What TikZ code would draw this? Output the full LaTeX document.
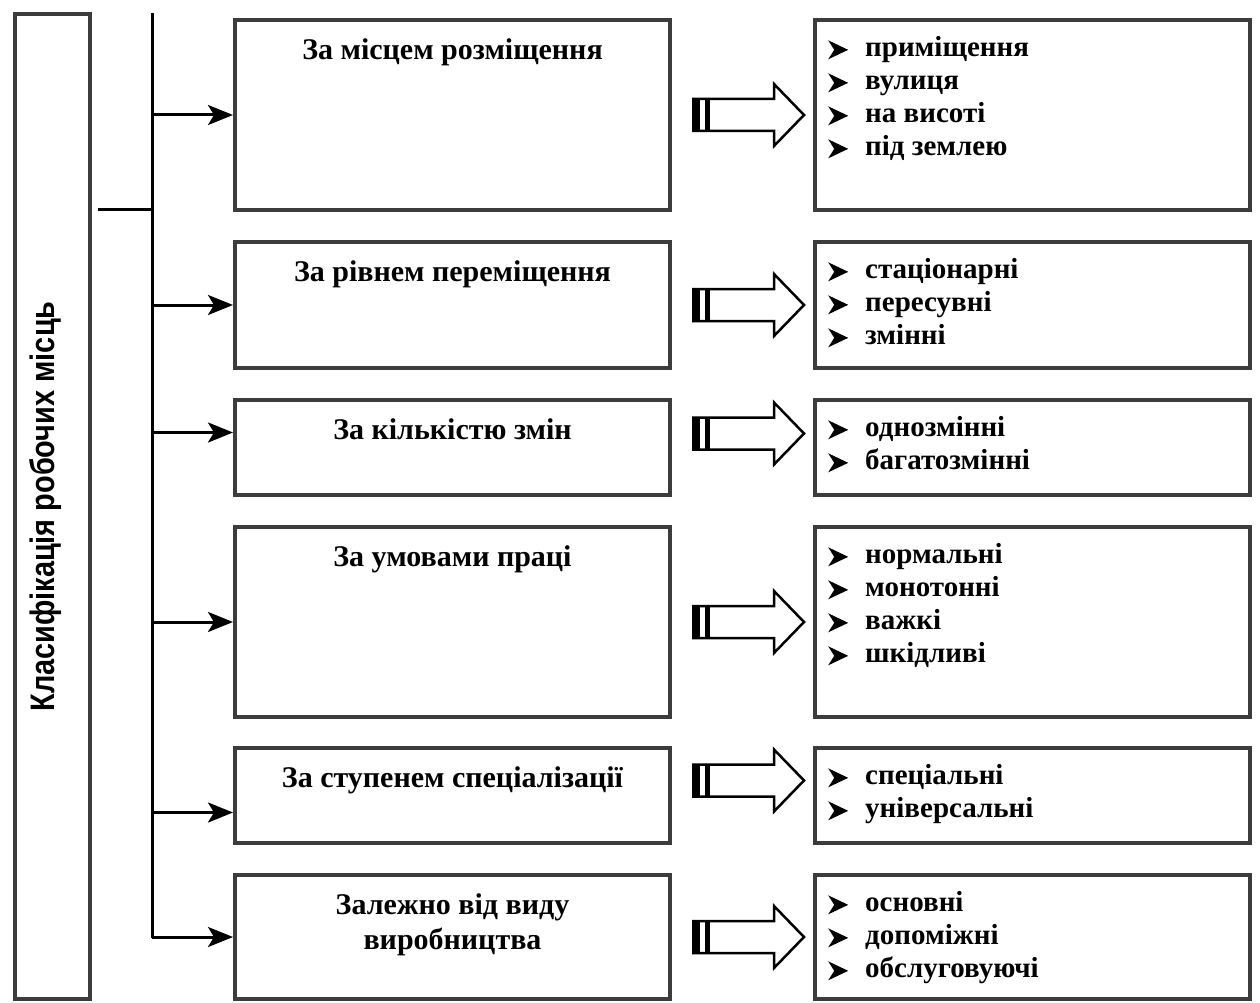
\documentclass[tikz,border=0pt]{standalone}
\usepackage{fontspec}
\setmainfont{Liberation Serif}
\newfontfamily\sidefont[FakeStretch=0.85]{Liberation Sans Bold}
\usetikzlibrary{positioning,arrows.meta}
\definecolor{boxgray}{HTML}{3C3C3C}
% list bullet (arrowhead)
\newcommand{\blt}{\tikz[x=1pt,y=1pt,baseline=3pt]\fill (0,0) -- (20,9.5) -- (0,19) -- (6,9.5) -- cycle;\hspace{17pt}}
\tikzset{
  box/.style={draw=boxgray, line width=4pt, rectangle, inner sep=0pt},
  midbox/.style={box, minimum width=435pt},
  rgtbox/.style={box, minimum width=435pt},
  ttl/.style={font=\fontsize{30}{35}\selectfont\bfseries, align=center, inner sep=0pt},
  lst/.style={font=\fontsize{29}{33}\selectfont\bfseries, align=left, inner sep=0pt},
  arr/.style={line width=3pt, -{Stealth[length=25pt,width=20pt,inset=6pt]}},
  bigarrow/.pic={
    \fill (0,-16) rectangle (8,16);
    \fill (13,-16) rectangle (18,16);
    \draw[line width=2.5pt, line join=miter]
      (0,-16) -- (82,-16) -- (82,-31) -- (112,0) -- (82,31) -- (82,16) -- (0,16);
  }
}
\begin{document}
\begin{tikzpicture}[x=1pt, y=-1pt]
\useasboundingbox (0,0) rectangle (1260,1003);

% Left box
\node[box, minimum width=75pt, minimum height=985pt] (cls) at (52,506.5) {};
\node[rotate=90, inner sep=0pt, font=\sidefont\fontsize{34}{34}\selectfont] (clstxt) at ([xshift=-6pt]cls.center) {Класифікація робочих місць};

% Middle boxes
\node[midbox, minimum height=190pt] (m1) at (452.5,115) {};
\node[midbox, minimum height=126pt] (m2) at (452.5,305) {};
\node[midbox, minimum height=95pt] (m3) at (452.5,447.5) {};
\node[midbox, minimum height=190pt] (m4) at (452.5,622) {};
\node[midbox, minimum height=95pt] (m5) at (452.5,795.5) {};
\node[midbox, minimum height=124pt] (m6) at (452.5,937) {};

\node[ttl, below=20pt of m1.north] (t1) {За місцем розміщення};
\node[ttl, below=20pt of m2.north] (t2) {За рівнем переміщення};
\node[ttl, below=20pt of m3.north] (t3) {За кількістю змін};
\node[ttl, below=20pt of m4.north] (t4) {За умовами праці};
\node[ttl, below=20pt of m5.north] (t5) {За ступенем спеціалізації};
\node[ttl, below=20pt of m6.north] (t6) {Залежно від виду\\виробництва};

% Right boxes
\node[rgtbox, minimum height=190pt] (r1) at (1032.5,115) {};
\node[rgtbox, minimum height=126pt] (r2) at (1032.5,305) {};
\node[rgtbox, minimum height=95pt] (r3) at (1032.5,447.5) {};
\node[rgtbox, minimum height=190pt] (r4) at (1032.5,622) {};
\node[rgtbox, minimum height=95pt] (r5) at (1032.5,795.5) {};
\node[rgtbox, minimum height=124pt] (r6) at (1032.5,937) {};

\node[lst, below right=18pt and 15pt of r1.north west] (l1) {\blt приміщення\\\blt вулиця\\\blt на висоті\\\blt під землею};
\node[lst, below right=18pt and 15pt of r2.north west] (l2) {\blt стаціонарні\\\blt пересувні\\\blt змінні};
\node[lst, below right=18pt and 15pt of r3.north west] (l3) {\blt однозмінні\\\blt багатозмінні};
\node[lst, below right=18pt and 15pt of r4.north west] (l4) {\blt нормальні\\\blt монотонні\\\blt важкі\\\blt шкідливі};
\node[lst, below right=18pt and 15pt of r5.north west] (l5) {\blt спеціальні\\\blt універсальні};
\node[lst, below right=18pt and 15pt of r6.north west] (l6) {\blt основні\\\blt допоміжні\\\blt обслуговуючі};

% Spine and branches
\coordinate (stop) at (152,13);
\coordinate (sbot) at (152,938);
\coordinate (joint) at (152,209);
\coordinate (e3) at ([yshift=15pt]m3.west);
\coordinate (e5) at ([yshift=-17pt]m5.west);
\draw[line width=3pt] (stop) -- (sbot);
\draw[line width=3pt] ([xshift=6pt]joint -| cls.east) -- (joint);
\draw[arr] (stop |- m1.west) -- (m1.west);
\draw[arr] (stop |- m2.west) -- (m2.west);
\draw[arr] (stop |- e3) -- (e3);
\draw[arr] (stop |- m4.west) -- (m4.west);
\draw[arr] (stop |- e5) -- (e5);
\draw[arr] (stop |- m6.west) -- (m6.west);

% Hollow arrows
\pic at ([xshift=20pt]m1.east) {bigarrow};
\pic at ([xshift=20pt]m2.east) {bigarrow};
\pic at ([xshift=20pt,yshift=14pt]m3.east) {bigarrow};
\pic at ([xshift=20pt]m4.east) {bigarrow};
\pic at ([xshift=20pt,yshift=15pt]m5.east) {bigarrow};
\pic at ([xshift=20pt]m6.east) {bigarrow};
\end{tikzpicture}
\end{document}
